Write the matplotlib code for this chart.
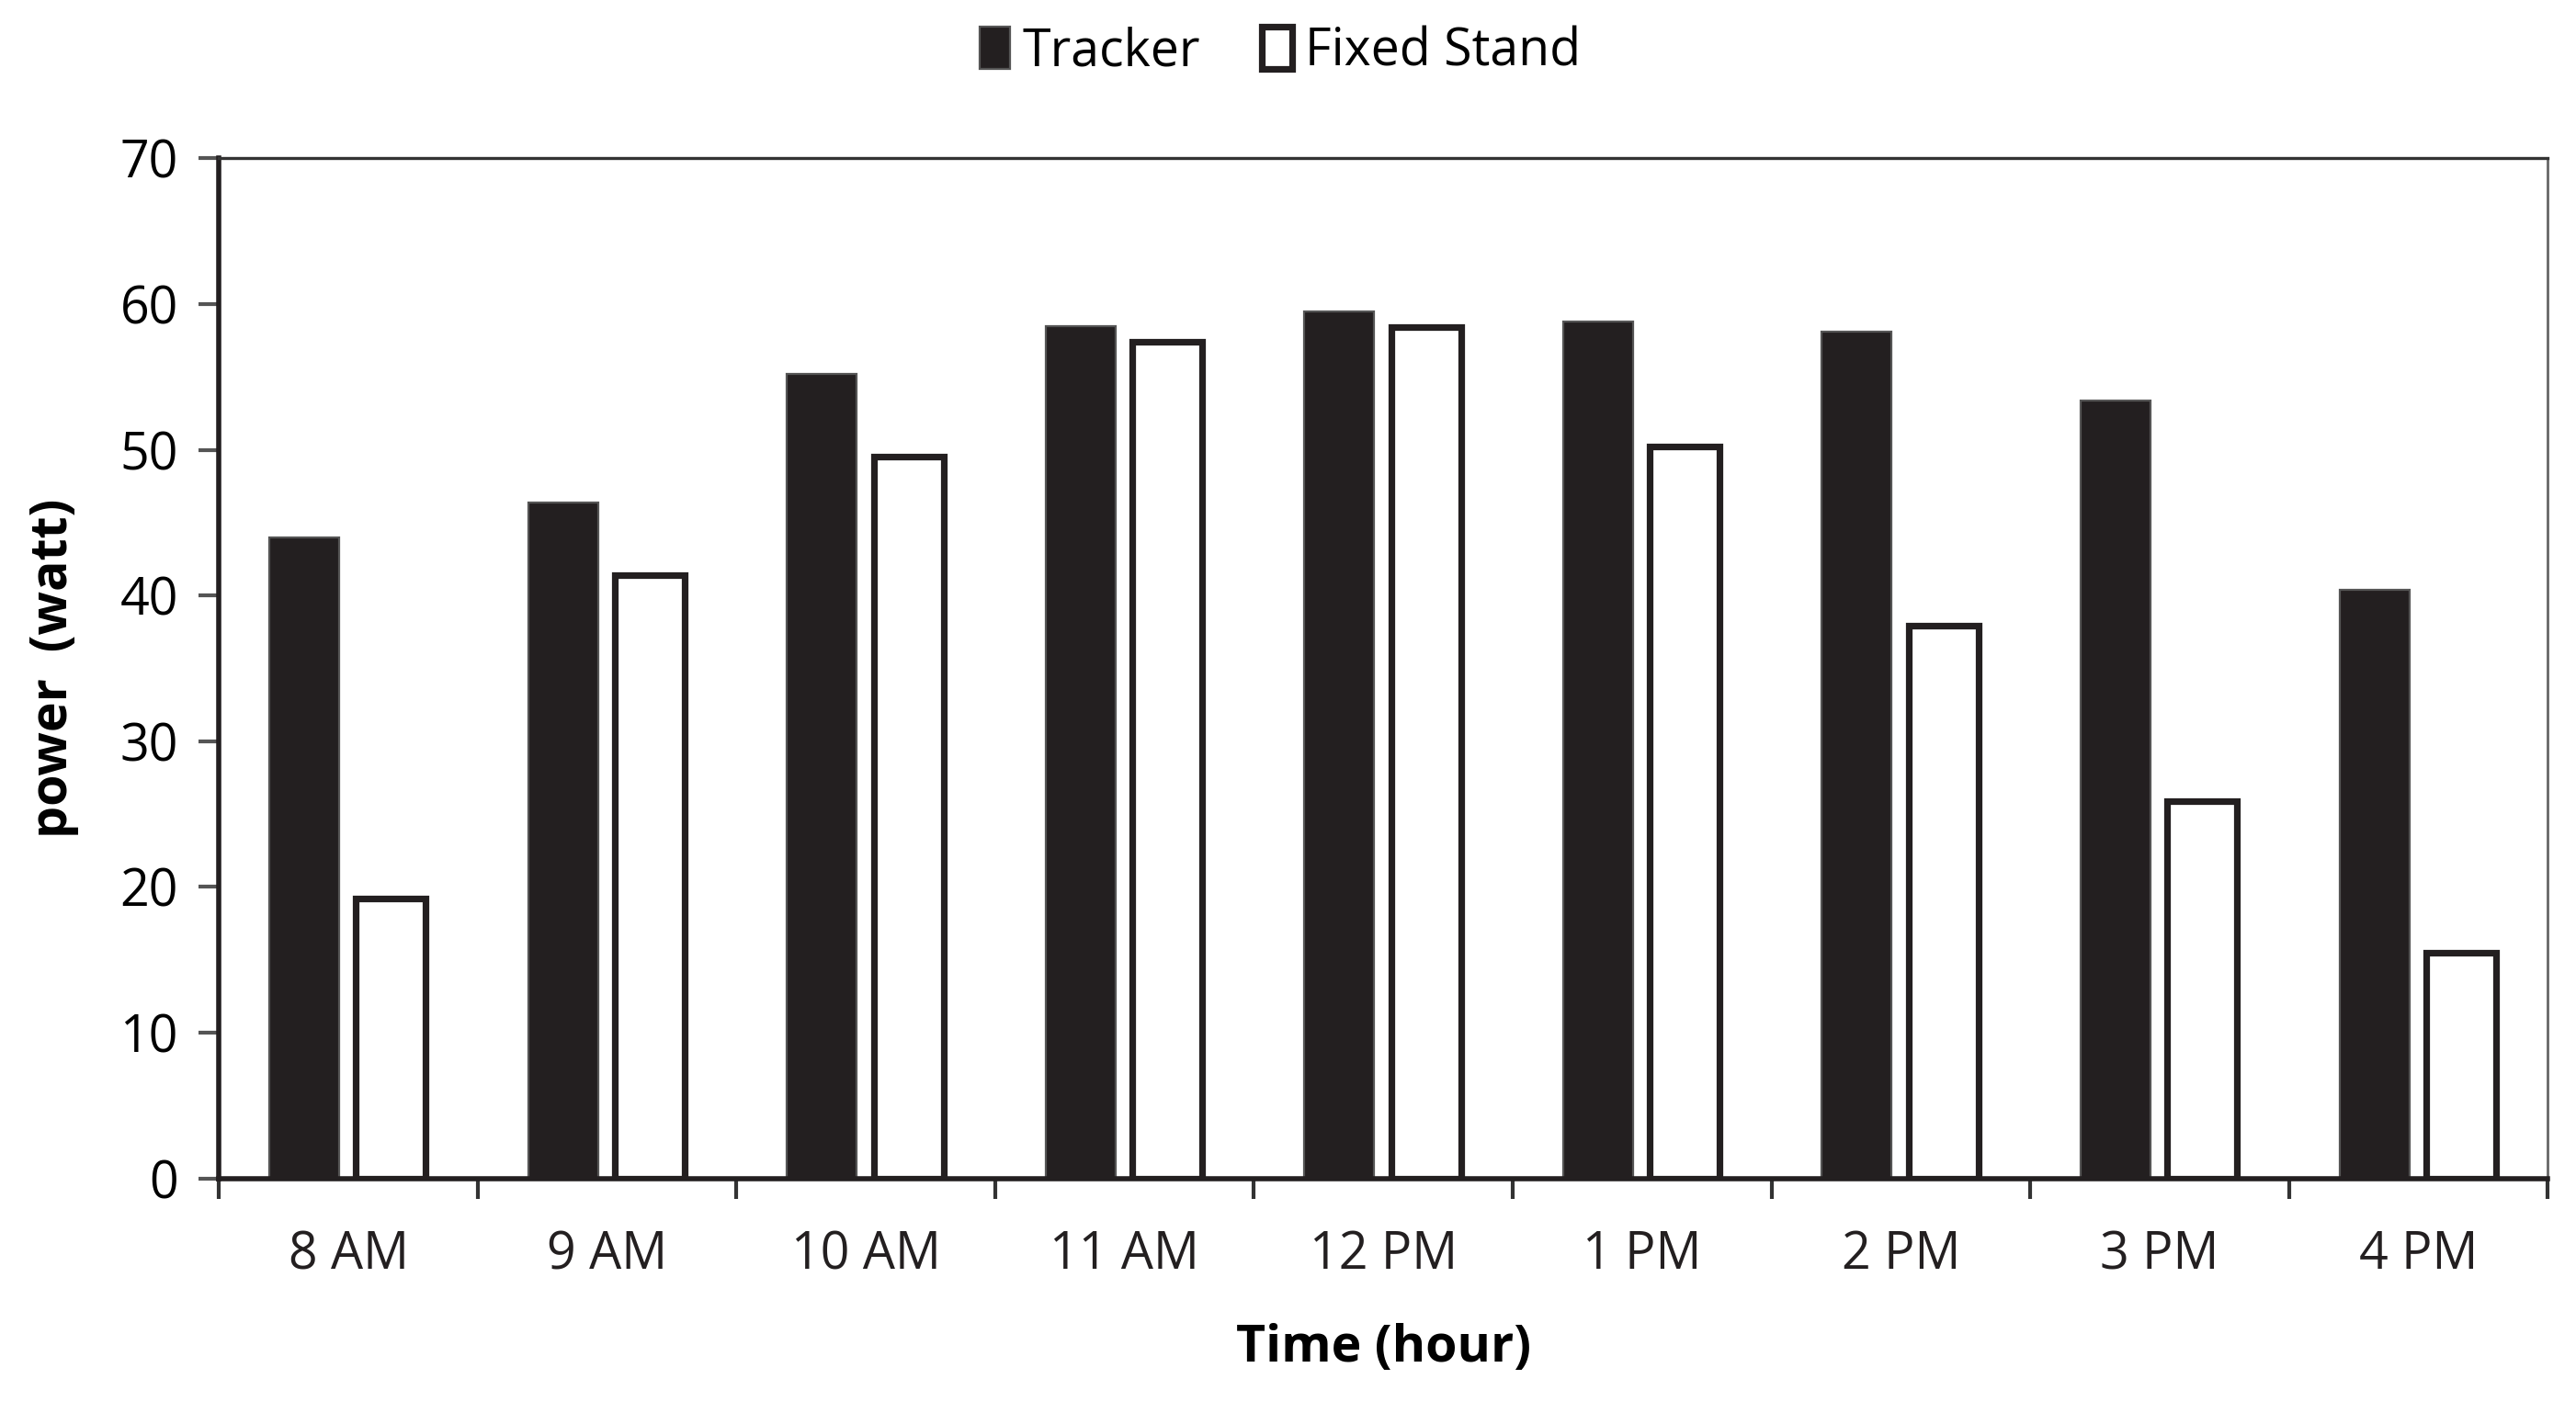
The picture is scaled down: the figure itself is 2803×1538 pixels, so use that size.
import numpy as np
import matplotlib.pyplot as plt
from matplotlib import rcParams

rcParams['font.family'] = ['Open Sans', 'DejaVu Sans']

# данные
hours = ['8 AM', '9 AM', '10 AM', '11 AM', '12 PM', '1 PM', '2 PM', '3 PM', '4 PM']
tracker = [44.0, 46.4, 55.2, 58.5, 59.5, 58.8, 58.1, 53.4, 40.4]
fixed_stand = [19.2, 41.4, 49.5, 57.4, 58.4, 50.2, 37.9, 25.9, 15.5]

dark = '#231f20'

fig = plt.figure(figsize=(14.015, 7.69), dpi=200)
ax = fig.add_axes([0.085, 0.166, 0.904, 0.722])

x = np.arange(len(hours))
w = 0.27
ax.bar(x - 0.17, tracker, w, color=dark, edgecolor='#555555', linewidth=0.8, label='Tracker')
ax.bar(x + 0.165, fixed_stand, w, color='white', edgecolor=dark, linewidth=2.6, label='Fixed Stand')

ax.set_xlim(-0.5, len(hours) - 0.5)
ax.set_ylim(0, 70)
ax.set_yticks(range(0, 71, 10))
ax.set_xticks(x)
ax.set_xticklabels(hours)
ax.set_xticks(np.arange(-0.5, len(hours)), minor=True)
ax.tick_params(axis='x', which='major', length=0, pad=20, labelsize=20, colors='#231f20')
ax.tick_params(axis='x', which='minor', length=8, width=1.5, direction='out', color='#333333')
ax.tick_params(axis='y', length=8, width=1.5, direction='out', labelsize=20, pad=8, color='#555555')

for s in ['left', 'bottom']:
    ax.spines[s].set_linewidth(2.0)
    ax.spines[s].set_color(dark)
ax.spines['top'].set_linewidth(1.2)
ax.spines['top'].set_color('#333333')
ax.spines['right'].set_linewidth(1.0)
ax.spines['right'].set_color('#666666')

ax.set_xlabel('Time (hour)', fontsize=20, fontweight='bold', labelpad=16)
ax.set_ylabel('power  (watt)', fontsize=20, fontweight='bold', labelpad=16)

fig.legend(loc='center', bbox_to_anchor=(0.497, 0.963), ncol=2, frameon=False,
           fontsize=20, handlelength=0.6, handleheight=0.9, handletextpad=0.25,
           columnspacing=1.2)

fig.savefig('out.png', dpi=200)
